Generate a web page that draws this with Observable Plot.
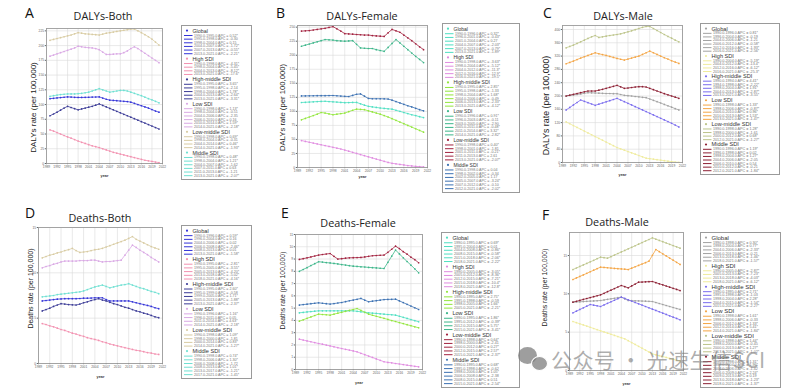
<!DOCTYPE html>
<html><head><meta charset="utf-8">
<script src="https://cdn.jsdelivr.net/npm/d3@7"></script>
<script src="https://cdn.jsdelivr.net/npm/@observablehq/plot@0.6"></script>
<style>
body{margin:0;background:#fff;}
#root{position:relative;width:791px;height:392px;overflow:hidden;background:#fff;font-family:'Liberation Sans',Arial,sans-serif;}
.abs{position:absolute;}
.letter{font-family:'Open Sans',sans-serif;font-size:14px;line-height:1;color:#111;white-space:nowrap;}
.title{font-family:'Open Sans',sans-serif;font-size:10.8px;line-height:1;color:#222;transform:translateX(-50%);white-space:nowrap;}
</style></head><body><div id="root"></div>
<script>
const years = [1990,1991,1992,1993,1994,1995,1996,1997,1998,1999,2000,2001,2002,2003,2004,2005,2006,2007,2008,2009,2010,2011,2012,2013,2014,2015,2016,2017,2018,2019,2020,2021];
const groups = ["Global","High SDI","High-middle SDI","Low SDI","Low-middle SDI","Middle SDI"];
const xTicks = [1989,1992,1995,1998,2001,2004,2007,2010,2013,2016,2019,2022];
const aTicks = [0,25,50,75,100,125,150,175,200,225];
const bTicks = [0,25,50,75,100,125,150,175,200,225,250];
const cTicks = [0,40,80,120,160,200,240,280,320,360,400];
const dTicks = [0,5,10,15];
const eTicks = [0,1,2,3,4,5,6,7,8,9,10,11];
const fTicks = [0,5,10,15];

// Panel A: DALYs-Both
const aGlobal = [110,110.6,111.2,111.8,112.4,113,112.7,112.3,112,112,112.2,112.4,112.6,112.8,113,111,109,107.5,107,106.5,106,105.5,105,104,102,100,98,96,94,91.5,89,87];
const aHigh = [57,55,52.5,50,47.5,45,43,40.5,38,36,34,32,30,28.5,27,25,23,21,19,17.5,16,14.5,13,11.5,10,8.5,7,5.5,4.5,3.5,2.5,1.5];
const aHighMid = [81,84,87,90.5,94,97,95,93,91,92.5,94,95.5,97,99,101,98.5,96,93.5,91,88.5,86,83.5,81,78.5,76,73.5,71,68.5,66,63.5,61,58.5];
const aLow = [182,184,186,188,190,192,194,196,199,198,197,196.5,196,195,193,189,185,185,185.5,186,186,188,191,195,198,195,191,187,183,179,175,171];
const aLowMid = [209,210.5,212,213.5,215,216.5,218,220,222,221,220,219.5,219,218.5,218,219.5,221,222,223,224,225,226,227,228,228,225,222,218.5,215,211,206,201];
const aMid = [114,115,116,117,117.5,118,118,118,118.5,119,120,121,123,125,127,125,123,121,122,123,124,124,123,121,119,117,115,112.5,110,108,105.5,103];

// Panel B: DALYs-Female
const bGlobal = [115.8,116.2,116.6,117,117.4,117.8,118,117.5,117,116.5,116,115.5,115.7,115.9,116,113.5,111,109,108,107,106,105.3,104.6,104,102,100,98,96,94,92.5,90.5,89];
const bHigh = [48,46.5,45,43.5,42,40.5,39,37.5,36,34.5,33,31,29,27,25,23,21,19,17,15,13,11,9,7.5,6.5,5.5,4.5,3.5,2.8,2,1.5,1];
const bHighMid = [85,87.5,90,92.5,95,98,97,95.5,94,95,96,97,99.5,102,104,103.5,103,101,99,97,95,92.5,90,87,84,81,78,75,72,69,66,63];
const bLow = [216,218,220,222,224,226,228,227.5,227,226,225.5,225,225.5,226,219.5,213,212.5,212,212,210,208.5,207,214,221,228,222,216,210,204,198,192.5,187];
const bLowMid = [243,243.5,244,245,246,247,248,249.5,251,247,243,238.5,238,237.5,237,236.5,236,236,235,234.5,234,233.5,240,246,243.5,241,236,231,226,220.5,215,210];
const bMid = [127.5,127.6,127.7,127.8,127.9,128,128,128.2,128.3,127.8,127.3,126.8,126.5,128.5,130.5,131,127,123,122.5,122.5,122.5,122.3,122,120,117.5,115,112.5,110,108,105.5,103,101];

// Panel C: DALYs-Male
const cGlobal = [200,201.5,203,204.5,206,208,210,209.5,209,208.5,208,207.5,207.5,207,207,204.5,202,201,200,198.5,197.5,196,195,191,187,183,179,174.5,170.5,166.5,162,158];
const cHigh = [122,116.5,111,105.5,100,94.5,89,83.5,78,72.5,67,61.5,56,50.5,45,41,37,33,29,25,21,17,13,11.5,10,8.5,7,5.5,4,2.8,1.5,0.5];
const cHighMid = [158,165.5,173,180.5,188,184,180,176,172,175.5,179,182.5,186,189.5,193,188,183,178,173,168,163,158,153,148,143,138,133,128,123,118,112.5,107];
const cLow = [297,301,305,309.5,314,318,322,326,330,327,324.5,322,319,316,313,310.5,308,311,314,317,320,325,330,335,330,325,320,315,311,306,302,298];
const cLowMid = [345,349,353,358,363,368,373,378,382,376,378,380,382,383.5,385,387,390,393,396,399.5,403,406.5,409,409,403,397,391,385,379,374,368,363];
const cMid = [200,202.5,205,207.5,210,212.5,215,215,215,217.5,220,223,226,229,232,227.5,223,224,225.5,227,228,228,227,223,219,215,211,207,203.5,200,196.5,193];

// Panel D: Deaths-Both
const dGlobal = [6.9,6.95,7.0,7.05,7.1,7.12,7.15,7.15,7.15,7.15,7.17,7.2,7.2,7.22,7.25,7.25,7.25,7.05,6.9,6.9,6.9,6.9,6.9,6.9,6.8,6.7,6.6,6.5,6.4,6.3,6.15,6.05];
const dHigh = [4.4,4.3,4.15,4.05,3.9,3.75,3.65,3.5,3.35,3.25,3.1,3.0,2.85,2.75,2.65,2.55,2.4,2.3,2.15,2.05,1.95,1.85,1.75,1.65,1.55,1.45,1.4,1.3,1.2,1.15,1.05,1.0];
const dHighMid = [5.8,5.95,6.1,6.3,6.45,6.6,6.55,6.5,6.47,6.45,6.55,6.7,6.8,6.95,7.05,7.15,7.0,6.9,6.75,6.6,6.5,6.35,6.2,6.1,5.95,5.8,5.7,5.55,5.45,5.3,5.15,5.05];
const dLow = [10.55,10.7,10.8,10.95,11.05,11.2,11.3,11.3,11.3,11.3,11.35,11.35,11.35,11.4,11.4,11.3,11.2,11.25,11.25,11.3,11.35,11.4,11.95,12.5,13.05,12.8,12.5,12.25,12.0,11.7,11.45,11.2];
const dLowMid = [11.65,11.8,11.95,12.05,12.2,12.3,12.45,12.55,12.7,12.45,12.25,12.3,12.35,12.45,12.55,12.6,12.7,12.85,13.0,13.15,13.3,13.45,13.6,13.8,14.0,13.7,13.5,13.3,13.1,12.9,12.75,12.6];
const dMid = [7.35,7.4,7.45,7.5,7.6,7.65,7.7,7.75,7.8,7.85,7.9,8.0,8.15,8.3,8.45,8.55,8.65,8.5,8.35,8.45,8.55,8.65,8.7,8.8,8.65,8.5,8.35,8.25,8.1,7.95,7.85,7.7];

// Panel E: Deaths-Female
const eGlobal = [4.62,4.65,4.69,4.72,4.75,4.78,4.78,4.78,4.78,4.78,4.78,4.78,4.78,4.78,4.78,4.74,4.7,4.66,4.62,4.59,4.57,4.54,4.51,4.48,4.46,4.43,4.34,4.25,4.16,4.07,3.98,3.89];
const eHigh = [2.47,2.4,2.33,2.26,2.19,2.12,2.06,1.99,1.92,1.85,1.78,1.71,1.64,1.58,1.51,1.44,1.32,1.21,1.09,0.98,0.86,0.75,0.63,0.58,0.54,0.49,0.45,0.4,0.35,0.31,0.26,0.22];
const eHighMid = [3.94,4.05,4.17,4.28,4.4,4.51,4.48,4.46,4.43,4.51,4.59,4.66,4.74,4.82,4.89,4.97,4.82,4.66,4.51,4.42,4.34,4.25,4.17,4.08,3.99,3.91,3.82,3.74,3.65,3.57,3.48,3.4];
const eLow = [8.0,8.15,8.3,8.47,8.62,8.78,8.75,8.71,8.68,8.64,8.6,8.55,8.51,8.46,8.42,8.4,8.37,8.35,8.32,8.3,8.28,8.25,8.23,8.73,9.23,9.73,9.42,9.1,8.8,8.5,8.2,7.88];
const eLowMid = [8.97,9.03,9.1,9.17,9.25,9.32,9.37,9.41,9.45,9.22,9.0,9.03,9.07,9.1,9.11,9.12,9.13,9.17,9.22,9.27,9.29,9.31,9.32,9.55,9.8,10.05,9.85,9.6,9.4,9.15,8.95,8.7];
const eMid = [5.25,5.29,5.32,5.36,5.4,5.43,5.4,5.36,5.33,5.37,5.42,5.46,5.53,5.6,5.66,5.72,5.79,5.65,5.52,5.57,5.61,5.65,5.7,5.71,5.72,5.73,5.59,5.45,5.31,5.17,5.03,4.89];

// Panel F: Deaths-Male
const fGlobal = [8.91,8.94,8.96,8.99,9.02,9.05,9.07,9.1,9.13,9.2,9.28,9.35,9.42,9.5,9.57,9.35,9.13,9.11,9.09,9.08,9.06,9.04,9.02,9.0,8.87,8.74,8.61,8.48,8.35,8.22,8.09,7.96];
const fHigh = [6.39,6.24,6.09,5.94,5.79,5.64,5.48,5.33,5.18,5.03,4.88,4.73,4.58,4.43,4.28,4.13,3.89,3.64,3.4,3.15,2.91,2.66,2.42,2.17,2.05,1.93,1.82,1.7,1.58,1.46,1.34,1.22];
const fHighMid = [7.52,7.74,7.96,8.17,8.39,8.61,8.52,8.44,8.35,8.55,8.76,8.96,9.16,9.37,9.57,9.4,9.22,9.05,8.87,8.7,8.53,8.35,8.18,8.0,7.83,7.66,7.48,7.31,7.13,6.96,6.79,6.61];
const fLow = [11.87,12.07,12.27,12.47,12.67,12.88,13.08,13.28,13.48,13.44,13.4,13.36,13.32,13.28,13.25,13.21,13.17,13.35,13.53,13.71,13.89,14.07,14.26,15.02,15.78,15.5,15.22,14.94,14.66,14.39,14.11,13.83];
const fLowMid = [13.17,13.37,13.57,13.77,13.97,14.17,14.37,14.58,14.78,14.72,14.65,14.85,15.06,15.26,15.46,15.66,15.87,16.07,16.27,16.48,16.68,16.89,17.09,17.3,17.13,16.96,16.8,16.63,16.46,16.29,16.13,15.96];
const fMid = [8.91,9.03,9.15,9.27,9.39,9.51,9.63,9.75,9.87,10.07,10.28,10.48,10.68,10.89,11.09,10.94,10.78,11.03,11.27,11.52,11.54,11.56,11.59,11.61,11.46,11.31,11.17,11.02,10.87,10.72,10.58,10.43];

// Joinpoint segments shown in the legends (start-end:APC)
const segA = [
 "1990-1995:0.52* 1995-1998:-0.30 1998-2004:0.15 2004-2007:-1.72* 2007-2013:-0.55* 2013-2021:-2.21*",
 "1990-1998:-4.31* 1998-2004:-5.45* 2004-2013:-8.12* 2013-2021:-17.6*",
 "1990-1995:3.65* 1995-1998:-2.14 1998-2004:1.78* 2004-2013:-2.64* 2013-2021:-3.31*",
 "1990-1998:1.13* 1998-2004:-0.51 2004-2006:-2.35 2006-2010:0.16 2010-2014:1.59* 2014-2021:-2.18*",
 "1990-1998:0.69* 1998-2004:-0.31 2004-2014:0.46* 2014-2021:-1.93*",
 "1990-1998:0.48* 1998-2004:1.21* 2004-2007:-1.62 2007-2011:0.63 2011-2013:-1.21 2013-2021:-2.07*"];
const segB = [
 "1990-1996:0.32* 1996-2001:-0.43* 2001-2004:0.27 2004-2007:-2.03* 2007-2013:-0.79* 2013-2021:-1.89*",
 "1990-1998:-3.63* 1998-2004:-5.12* 2004-2012:-11.3* 2012-2016:-12.9* 2016-2021:-19.5*",
 "1990-1995:2.85* 1995-1998:-1.33 1998-2004:1.68* 2004-2006:-0.49 2006-2013:-2.33* 2013-2021:-4.12*",
 "1990-1996:0.91* 1996-2003:-0.11 2003-2005:-2.90 2005-2011:-0.48* 2011-2014:3.32* 2014-2021:-2.82*",
 "1990-1998:0.40* 1998-2001:-1.81 2001-2011:-0.21* 2011-2013:2.61 2013-2021:-2.07*",
 "1990-1998:0.04 1998-2002:-0.34 2002-2005:1.17 2005-2007:-3.24* 2007-2012:-0.10 2012-2021:-2.02*"];
const segC = [
 "1990-1996:0.81* 1996-2004:-0.19 2004-2006:-1.21 2006-2012:-0.58* 2012-2016:-1.93* 2016-2021:-2.56*",
 "1990-2004:-5.19* 2004-2012:-13.4* 2012-2016:-6.12* 2016-2021:-25.3*",
 "1990-1994:4.41* 1994-1998:-2.22* 1998-2004:1.91* 2004-2013:-2.87* 2013-2021:-3.55*",
 "1990-1998:1.33* 1998-2006:-0.87* 2006-2010:0.96* 2010-2013:1.53* 2013-2021:-1.47*",
 "1990-1998:1.28* 1998-2000:-1.61 2000-2012:0.68* 2012-2021:-1.27*",
 "1990-1996:1.19* 1996-1998:0.02 1998-2004:1.27* 2004-2006:-2.05 2006-2010:0.54 2010-2012:-0.21 2012-2021:-1.84*"];
const segD = [
 "1990-1996:0.59* 1996-2004:0.16 2004-2006:0.02 2006-2008:-2.46* 2008-2013:0.01 2013-2021:-1.58*",
 "1990-1995:-2.81* 1995-2005:-3.55* 2005-2013:-4.20* 2013-2018:-5.02* 2018-2021:-4.16*",
 "1990-1995:2.60* 1995-1999:-0.58 1999-2005:1.71* 2005-2013:-1.88* 2013-2021:-2.37*",
 "1990-1996:1.16* 1996-2011:0.05 2011-2014:4.63* 2014-2021:-2.18*",
 "1990-1998:1.09* 1998-2000:-1.81 2000-2014:0.83* 2014-2021:-1.27*",
 "1990-1998:0.74* 1998-2006:1.30* 2006-2008:-1.72 2008-2013:1.01* 2013-2017:-1.21* 2017-2021:-1.45*"];
const segE = [
 "1990-1995:0.69* 1995-2004:0.01 2004-2008:-0.86* 2008-2015:-0.58* 2015-2018:-2.06* 2018-2021:-2.22*",
 "1990-2005:-3.05* 2005-2012:-8.36* 2012-2015:-7.21* 2015-2018:-10.4* 2018-2021:-12.8*",
 "1990-1995:2.75* 1995-1998:-0.59 1998-2005:1.66* 2005-2021:-2.21*",
 "1990-1995:1.86* 1995-2012:-0.39* 2012-2015:5.75* 2015-2021:-3.41*",
 "1990-1998:0.64* 1998-2000:-2.41 2000-2012:0.27* 2012-2015:2.57* 2015-2021:-2.37*",
 "1990-1995:0.68* 1995-1998:-0.62 1998-2006:1.05* 2006-2008:-2.38 2008-2015:0.51 2015-2021:-2.54*"];
const segF = [
 "1990-1998:0.30* 1998-2004:0.77* 2004-2006:-2.33* 2006-2013:-0.21 2013-2018:-1.46* 2018-2021:-1.57*",
 "1990-2005:-2.87* 2005-2013:-7.23* 2013-2018:-4.03* 2018-2021:-6.12*",
 "1990-1995:2.71* 1995-1998:-1.03 1998-2004:2.28* 2004-2015:-1.54* 2015-2021:-2.27*",
 "1990-1998:1.61* 1998-2006:-0.33 2006-2012:1.33* 2012-2014:5.41* 2014-2021:-1.84*",
 "1990-1998:1.44* 1998-2000:-0.45 2000-2013:1.27* 2013-2021:-1.02*",
 "1990-1998:1.31* 1998-2004:1.96* 2004-2006:-1.42 2006-2009:2.24* 2009-2013:0.19 2013-2018:-1.23* 2018-2021:-1.37*"];

const palA = ["#3434d8","#f291b0","#3a3a96","#d9a8e4","#d8cba2","#6fe0d2"];
const palB = ["#4fdfc2","#e08be0","#92e63c","#3db68a","#a2223f","#3c71b2"];
const palC = ["#a2a2a2","#efeb9c","#7a6cee","#f4a544","#bcc48a","#8d2034"];

const panels = [
 {letter:"A", lpos:[25,5.6], title:"DALYs-Both", tpos:[103,11], frame:[46,28,162,163], svg:[0,22,176,186], ydomain:[0,229], yticks:aTicks,
  ylabel:"DALYs rate (per 100,000)", ylab:[-13,11.5,8], yearDy:12, colors:palA, series:[aGlobal,aHigh,aHighMid,aLow,aLowMid,aMid],
  legend:[181,25,252,180], segs:segA, hfs:5.3, rfs:3.6},
 {letter:"B", lpos:[276,5.6], title:"DALYs-Female", tpos:[362,11], frame:[297,25,427,167], svg:[270,19,437,190], ydomain:[0,253], yticks:bTicks,
  ylabel:"DALYs rate (per 100,000)", ylab:[-15,11,7.7], yearDy:9.5, colors:palB, series:[bGlobal,bHigh,bHighMid,bLow,bLowMid,bMid],
  legend:[442,23,520,193], segs:segB, hfs:5.0, rfs:3.6},
 {letter:"C", lpos:[543,5.6], title:"DALYs-Male", tpos:[623,11], frame:[562,25,682,162], svg:[530,19,695,185], ydomain:[0,412], yticks:cTicks,
  ylabel:"DALYs rate (per 100,000)", ylab:[-16,11.5,8.8], yearDy:12, colors:palC, series:[cGlobal,cHigh,cHighMid,cLow,cLowMid,cMid],
  legend:[700,23,780,175], segs:segC, hfs:5.6, rfs:3.7},
 {letter:"D", lpos:[25,205.6], title:"Deaths-Both", tpos:[100,213], frame:[38,227,162,363], svg:[0,221,176,388], ydomain:[0,15], yticks:dTicks,
  ylabel:"Deaths rate (per 100,000)", ylab:[-8,-7,7], yearDy:13, colors:palA, series:[dGlobal,dHigh,dHighMid,dLow,dLowMid,dMid],
  legend:[181,225,252,379], segs:segD, hfs:5.6, rfs:3.6},
 {letter:"E", lpos:[281,205.6], title:"Deaths-Female", tpos:[358,218], frame:[295,234,422,369], svg:[270,228,437,392], ydomain:[0,11], yticks:eTicks,
  ylabel:"Deaths rate (per 100,000)", ylab:[-13,-11.5,6.8], yearDy:13, colors:palB, series:[eGlobal,eHigh,eHighMid,eLow,eLowMid,eMid],
  legend:[441,232,520,388], segs:segE, hfs:5.5, rfs:3.7},
 {letter:"F", lpos:[542,207.6], title:"Deaths-Male", tpos:[617,217], frame:[569,232,683,370], svg:[530,226,697,392], ydomain:[0,18], yticks:fTicks,
  ylabel:"Deaths rate (per 100,000)", ylab:[-25,-14,6.8], yearDy:13, colors:palC, series:[fGlobal,fHigh,fHighMid,fLow,fLowMid,fMid],
  legend:[700,232,781,388], segs:segF, hfs:6.0, rfs:3.7}
];

const root = document.getElementById("root");

function addDiv(cls, text, left, top) {
  const d = document.createElement("div");
  d.className = "abs " + cls;
  d.textContent = text;
  d.style.left = left + "px";
  d.style.top = top + "px";
  root.appendChild(d);
  return d;
}

function drawPanel(p) {
  const rows = [];
  p.series.forEach((vals, gi) => vals.forEach((v, i) => rows.push({year: years[i], value: v, group: groups[gi]})));
  const [fx0, fy0, fx1, fy1] = p.frame, [sx0, sy0, sx1, sy1] = p.svg;
  const chart = Plot.plot({
    width: sx1 - sx0, height: sy1 - sy0,
    marginLeft: fx0 - sx0, marginRight: sx1 - fx1, marginTop: fy0 - sy0, marginBottom: sy1 - fy1,
    style: {background: "transparent", fontFamily: "'Liberation Sans', Arial, sans-serif", overflow: "visible"},
    x: {domain: [1989, 2022]},
    y: {domain: p.ydomain},
    color: {domain: groups, range: p.colors},
    marks: [
      Plot.gridX(xTicks, {stroke: "#dadada", strokeOpacity: 1, strokeWidth: 0.6}),
      Plot.gridY(p.yticks, {stroke: "#dadada", strokeOpacity: 1, strokeWidth: 0.6}),
      Plot.axisX(xTicks, {tickSize: 1.2, tickPadding: 1.2, fontSize: 3.3, tickFormat: d => String(d), label: null, color: "#666"}),
      Plot.axisY(p.yticks, {tickSize: 1.2, tickPadding: 1.2, fontSize: 3.3, label: null, color: "#666"}),
      Plot.line(rows, {x: "year", y: "value", z: "group", stroke: "group", strokeWidth: 0.8}),
      Plot.dot(rows, {x: "year", y: "value", fill: "group", r: 0.85}),
      Plot.frame({stroke: "#9c9c9c", strokeWidth: 0.9}),
      Plot.text([p.ylabel], {text: d => d, frameAnchor: "left", rotate: -90, dx: p.ylab[0], dy: p.ylab[1], fontSize: p.ylab[2], textAnchor: "middle", lineAnchor: "middle", fill: "#222"}),
      Plot.text(["year"], {text: d => d, frameAnchor: "bottom", dy: p.yearDy, fontSize: 3.8, fontWeight: "bold", lineAnchor: "middle", fill: "#333"})
    ]
  });
  chart.style.position = "absolute";
  chart.style.left = sx0 + "px";
  chart.style.top = sy0 + "px";
  root.appendChild(chart);

  addDiv("letter", p.letter, p.lpos[0], p.lpos[1]);
  addDiv("title", p.title, p.tpos[0], p.tpos[1]);
  drawLegend(p);
}

function drawLegend(p) {
  const [x0, y0, x1, y1] = p.legend;
  const w = x1 - x0, h = y1 - y0;
  const svg = d3.create("svg").attr("width", w).attr("height", h)
    .style("position", "absolute").style("left", x0 + "px").style("top", y0 + "px")
    .style("font-family", "'Liberation Sans', Arial, sans-serif");
  svg.append("rect").attr("x", 0.5).attr("y", 0.5).attr("width", w - 1).attr("height", h - 1)
    .attr("fill", "#fff").attr("stroke", "#9a9a9a").attr("stroke-width", 1);
  const segs = p.segs.map(s => s.split(" "));
  const nRows = d3.sum(segs, s => s.length);
  const rowH = (h - 5) / (groups.length * 1.7 + nRows);
  let y = 2.5;
  groups.forEach((g, gi) => {
    const col = p.colors[gi];
    const hy = y + rowH * 0.85;
    svg.append("circle").attr("cx", 6).attr("cy", hy).attr("r", 1.1).attr("fill", col);
    svg.append("text").attr("x", 11.5).attr("y", hy).attr("dominant-baseline", "central")
      .attr("font-size", p.hfs).attr("fill", "#333").text(g);
    y += rowH * 1.7;
    segs[gi].forEach(s => {
      const [range, apc] = s.split(":");
      const [a, b] = range.split("-");
      const ry = y + rowH / 2;
      svg.append("line").attr("x1", 3).attr("x2", 11.5).attr("y1", ry).attr("y2", ry)
        .attr("stroke", col).attr("stroke-width", 1);
      svg.append("text").attr("x", 13).attr("y", ry).attr("dominant-baseline", "central")
        .attr("font-size", p.rfs).attr("fill", "#777").text(`${a}.0-${b}.0 APC = ${apc}`);
      y += rowH;
    });
  });
  root.appendChild(svg.node());
}

panels.forEach(drawPanel);

// watermark overlay
const icon1 = document.createElement("div");
icon1.className = "abs";
icon1.style.cssText = "left:518px;top:347px;width:19px;height:17px;border-radius:50%;background:rgba(125,125,125,0.75);";
root.appendChild(icon1);
const icon2 = document.createElement("div");
icon2.className = "abs";
icon2.style.cssText = "left:531px;top:356px;width:15px;height:13px;border-radius:50%;background:rgba(125,125,125,0.75);border:1px solid #fff;";
root.appendChild(icon2);
const wm = addDiv("", "公众号 · 光速生信SCI", 551, 349);
wm.style.cssText += "font-family:'Noto Sans CJK SC',sans-serif;font-size:21px;line-height:1;color:rgba(120,120,120,0.6);white-space:nowrap;letter-spacing:0.4px;";
</script></body></html>
